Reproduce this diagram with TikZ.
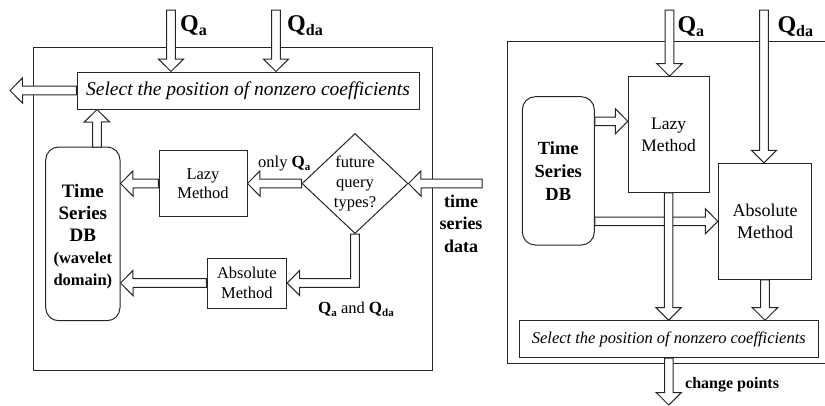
\documentclass[tikz,border=0pt]{standalone}
\usepackage{fontspec}
\setmainfont{Liberation Serif}
\usetikzlibrary{shapes.geometric,calc}

% font size helper: size, baselineskip (pt)
\newcommand{\fs}[2]{\fontsize{#1}{#2}\selectfont}
% bold Q with a lowered subscript: Q size, subscript size, drop, subscript text
\newcommand{\Qs}[4]{{\bfseries\fontsize{#1}{#1}\selectfont Q\raisebox{-#3}{\fontsize{#2}{#2}\selectfont #4}}}

% hollow block-arrow dimensions
\def\fw{4.3pt}   % half shaft width
\def\fW{12.6pt}  % half head width
\def\fL{12.5pt}  % head length

\tikzset{
  ln/.style={line width=1pt, draw=black!85},
  box/.style={ln, rectangle, inner sep=0pt, align=center},
  dbbox/.style={box, rounded corners=13pt},
  lab/.style={inner sep=0pt},
  fat/.style={ln, fill=white, line join=miter, to path={
    let \p1=(\tikztostart), \p2=(\tikztotarget),
        \n1={atan2(\y2-\y1,\x2-\x1)}, \n2={veclen(\x2-\x1,\y2-\y1)},
        \n3={atan2(\fW,\fL)}, \n4={veclen(\fL,\fW)} in
    (\p1) ++(\n1+90:\fw) -- ++(\n1:\n2-\fL) -- ++(\n1+90:\fW-\fw) -- (\p2)
    -- ++(\n1+180+\n3:\n4) -- ++(\n1+90:\fW-\fw) -- ++(\n1+180:\n2-\fL) -- cycle
  }},
}

\begin{document}
\begin{tikzpicture}[x=1pt,y=1pt]
\useasboundingbox (0,0) rectangle (825,-405);

% ---------------- left panel ----------------
\draw[ln] (33,-47.7) rectangle (432.7,-370.7);

\node[box, minimum width=342pt, minimum height=37pt, font=\fs{19.5}{22}\itshape]
  (selL) at (248,-90.5) {Select the position of nonzero coefficients};
\node[dbbox, minimum width=74.3pt, minimum height=173.7pt]
  (dbL) at (82.85,-233.85) {};
\node[text width=74pt, align=center, inner sep=0pt, font=\fs{19}{22}\bfseries]
  (dbLtext) at (82.85,-236.5) {Time\\Series\\DB\\{\fs{16.5}{22}(wavelet\\domain)}};
\node[box, minimum width=88pt, minimum height=66pt, font=\fs{16.5}{19.5}]
  (lazyL) at (203,-183.5) {Lazy\\Method};
\node[box, minimum width=79.7pt, minimum height=50pt, font=\fs{16.5}{19.5}]
  (absL) at (246.85,-283) {Absolute\\Method};
\node[ln, diamond, aspect=1.06, inner sep=0pt, minimum width=106pt, minimum height=100pt,
      align=center, font=\fs{16.5}{20}]
  (dia) at (355,-183.5) {future\\query\\types?};

\node[lab, align=center, font=\fs{18}{22.5}\bfseries] (tsdlab) at (461,-223.5) {time\\series\\data};
\node[lab, anchor=base west] (qaLlab) at (180,-31.7) {\Qs{24}{16}{4pt}{a}};
\node[lab, anchor=base west] (qdaLlab) at (287,-31.7) {\Qs{24}{16}{4pt}{da}};
\node[lab, anchor=base west] (onlylab) at (258,-167) {\fs{16.5}{18}only \Qs{17}{11}{3pt}{a}};
\node[lab, anchor=base west] (bothlab) at (318,-313) {\fs{16.5}{18}\Qs{17}{11}{3pt}{a} and \Qs{17}{11}{3pt}{da}};

\coordinate (qaL) at (171,-10);
\coordinate (qdaL) at (276,-10);
\coordinate (outL) at (10,-90.5);
\coordinate (tsd) at (482,-183.5);
\coordinate (dbup) at (97,-147);

\draw[fat] (qaL) to (qaL |- selL.north);
\draw[fat] (qdaL) to (qdaL |- selL.north);
\draw[fat] (selL.west) to (outL);
\draw[fat] (dbup) to (dbup |- selL.south);
\draw[fat] (lazyL.west) to (lazyL.west -| dbL.east);
\draw[fat] (dia.west) to (dia.west -| lazyL.east);
\draw[fat] (tsd) to (dia.east);
\draw[fat] (absL.west) to (absL.west -| dbL.east);
% elbow arrow from the decision to the absolute method
\draw[ln, fill=white, line join=miter] let \p1=(dia.south), \p2=(absL.east) in
  (\x1-\fw,\y1) -- (\x1-\fw,\y2+\fw) -- (\x2+\fL,\y2+\fw) -- (\x2+\fL,\y2+\fW) -- (\p2)
  -- (\x2+\fL,\y2-\fW) -- (\x2+\fL,\y2-\fw) -- (\x1+\fw,\y2-\fw) -- (\x1+\fw,\y1) -- cycle;

% ---------------- right panel ----------------
\draw[ln] (826,-41.7) -- (507.3,-41.7) -- (507.3,-363.3) -- (826,-363.3);

\node[box, minimum width=80.7pt, minimum height=115.6pt, font=\fs{17.5}{22}]
  (lazyR) at (668.65,-134.5) {Lazy\\Method};
\node[box, minimum width=93.4pt, minimum height=116pt, font=\fs{18}{22}]
  (absR) at (765,-221.3) {Absolute\\Method};
\node[dbbox, minimum width=72pt, minimum height=148.3pt, font=\fs{18.5}{23}\bfseries]
  (dbR) at (558.3,-170.85) {Time\\Series\\DB};
\node[box, minimum width=299pt, minimum height=37pt, font=\fs{16.5}{20}\itshape]
  (selR) at (668.8,-339.2) {Select the position of nonzero coefficients};

\node[lab, anchor=base west] (qaRlab) at (677.3,-32) {\Qs{24}{16}{4pt}{a}};
\node[lab, anchor=base west] (qdaRlab) at (777.3,-32) {\Qs{24}{16}{4pt}{da}};
\node[lab, anchor=west, font=\fs{16}{18}\bfseries] (cplab) at (685,-385) {change points};

\coordinate (qaR) at (669.5,-10);
\coordinate (qdaR) at (764,-10);
\coordinate (lzin) at ([yshift=13.2pt]lazyR.west);
\coordinate (cpend) at (668.8,-405);

\draw[fat] (qaR) to (qaR |- lazyR.north);
\draw[fat] (qdaR) to (qdaR |- absR.north);
\draw[fat] (dbR.east |- lzin) to (lzin);
\draw[fat] (dbR.east |- absR.west) to (absR.west);
\draw[fat] (lazyR.south) to (lazyR.south |- selR.north);
\draw[fat] (absR.south) to (absR.south |- selR.north);
\draw[fat] (selR.south) to (cpend);
\end{tikzpicture}
\end{document}
